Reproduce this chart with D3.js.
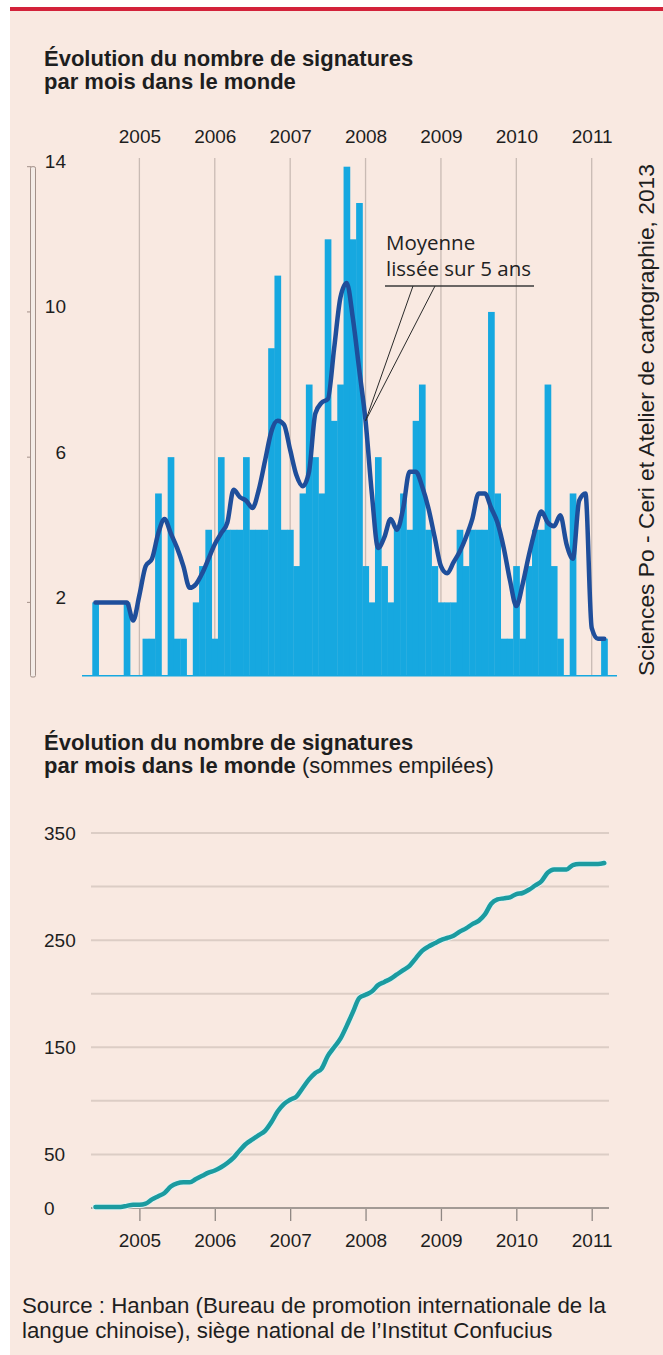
<!DOCTYPE html>
<html>
<head>
<meta charset="utf-8">
<script src="https://cdn.jsdelivr.net/npm/d3@7/dist/d3.min.js"></script>
<style>
  html, body { margin: 0; padding: 0; background: #fff; }
  svg { display: block; }
</style>
</head>
<body>
<div id="chart"></div>
<script>
// Signatures Confucius : par mois (barres + moyenne lissée) et cumul
const yearTicks = [2005, 2006, 2007, 2008, 2009, 2010, 2011]
const firstMonth = 2004 + 5 / 12 // juin 2004, un point par mois ensuite

const monthlySignatures = [
  2, 0, 0, 0, 0, 2, 0, 0, 1, 1,
  5, 0, 6, 1, 1, 0, 2, 3, 4, 1,
  6, 4, 4, 4, 6, 4, 4, 4, 9, 11,
  4, 4, 3, 5, 8, 6, 5, 12, 7, 8,
  14, 12, 13, 3, 2, 6, 3, 2, 4, 5,
  4, 7, 8, 4, 3, 2, 2, 2, 4, 3,
  4, 4, 4, 10, 5, 1, 1, 3, 1, 3,
  4, 4, 8, 3, 1, 0, 5, 0, 0, 0,
  0, 1
]

const smoothedAverage = [
  2.0, 2.0, 2.0, 2.0, 2.0, 2.0, 1.5, 2.2, 3.0, 3.2,
  3.9, 4.3, 3.9, 3.5, 3.0, 2.4, 2.5, 2.8, 3.2, 3.6,
  3.9, 4.2, 5.1, 4.9, 4.8, 4.6, 5.1, 5.9, 6.7, 7.0,
  6.9, 6.2, 5.5, 5.2, 5.6, 7.2, 7.5, 7.6, 9.0, 10.4,
  10.8, 9.8, 8.4, 7.0, 5.0, 3.5, 3.8, 4.3, 4.0, 4.6,
  5.6, 5.6, 5.2, 4.6, 3.8, 3.0, 2.8, 3.1, 3.4, 3.8,
  4.3, 5.0, 5.0, 4.6, 4.2, 3.5, 2.6, 1.9, 2.5, 3.3,
  4.0, 4.5, 4.2, 4.1, 4.4, 3.6, 3.2, 4.8, 5.0, 1.3,
  1.0, 1.0
]

const cumulativeSignatures = [
  1, 1, 1, 1, 1, 2, 3, 3, 4, 8,
  11, 14, 20, 23, 24, 24, 27, 30, 33, 35,
  38, 42, 47, 54, 60, 64, 68, 72, 80, 90,
  97, 101, 104, 112, 120, 126, 130, 142, 150, 158,
  170, 183, 196, 199, 202, 208, 211, 214, 218, 222,
  226, 233, 240, 244, 247, 250, 252, 254, 258, 261,
  265, 268, 274, 284, 288, 289, 290, 293, 294, 297,
  301, 305, 313, 316, 316, 316, 320, 321, 321, 321,
  321, 322
]

const topTicks = [2, 6, 10, 14]
const bottomTicks = [0, 50, 150, 250, 350]
const bottomGrid = [50, 100, 150, 200, 250, 300, 350]

const W = 663, H = 1355
const FONT = "'Liberation Sans', Arial, sans-serif"
const BG = '#f9e9e1'
const BAR = '#16a8e0'
const DARK_LINE = '#1f4e9b'
const TEAL = '#1b9ba0'
const INK = '#1e1e1e'

const svg = d3.select('#chart').append('svg')
  .attr('width', W).attr('height', H)
  .style('font-family', FONT)

// cadre
svg.append('rect').attr('width', W).attr('height', H).attr('fill', '#fff')
svg.append('rect').attr('x', 10).attr('y', 11).attr('width', W - 10).attr('height', H - 11).attr('fill', BG)
svg.append('rect').attr('x', 10).attr('y', 7).attr('width', W - 10).attr('height', 4).attr('fill', '#d3223a')

const monthDate = i => firstMonth + i / 12
const x = d3.scaleLinear().domain([2005, 2011]).range([139.4, 591.7])
const bw = x(2005 + 1 / 12) - x(2005)

// ---------- graphique du haut ----------
const yTop = d3.scaleLinear().domain([0, 14]).range([675, 166.7])

const title1 = svg.append('text').attr('x', 44).attr('y', 66)
  .attr('font-size', 22).attr('font-weight', 'bold').attr('fill', INK)
title1.append('tspan').attr('x', 44).text('Évolution du nombre de signatures')
title1.append('tspan').attr('x', 44).attr('dy', 23).text('par mois dans le monde')

// grille verticale (années)
svg.append('g').selectAll('line').data(yearTicks).join('line')
  .attr('x1', d => x(d)).attr('x2', d => x(d))
  .attr('y1', 158).attr('y2', yTop(0))
  .attr('stroke', '#c9bbb4').attr('stroke-width', 1.3)

// années en haut
const gxTop = svg.append('g').attr('transform', 'translate(0,143)')
  .call(d3.axisTop(x).tickValues(yearTicks).tickSize(0).tickPadding(0).tickFormat(d3.format('d')))
gxTop.select('.domain').remove()
gxTop.selectAll('text').attr('font-size', 19).attr('font-family', FONT).attr('fill', INK).attr('dy', 0)

// barres
svg.append('g').selectAll('rect').data(monthlySignatures.map((v, i) => ({ i, v })).filter(d => d.v > 0)).join('rect')
  .attr('x', d => x(monthDate(d.i)) - bw / 2)
  .attr('width', bw + 0.4)
  .attr('y', d => yTop(d.v))
  .attr('height', d => yTop(0) - yTop(d.v))
  .attr('fill', BAR)

// ligne de base
svg.append('line').attr('x1', 82).attr('x2', 617).attr('y1', yTop(0) + 0.8).attr('y2', yTop(0) + 0.8)
  .attr('stroke', BAR).attr('stroke-width', 1.6)

// moyenne lissée
const smoothLine = d3.line().x((d, i) => x(monthDate(i))).y(d => yTop(d)).curve(d3.curveMonotoneX)
svg.append('path').datum(smoothedAverage)
  .attr('d', smoothLine)
  .attr('fill', 'none').attr('stroke', DARK_LINE).attr('stroke-width', 4.5)
  .attr('stroke-linejoin', 'round').attr('stroke-linecap', 'round')

// axe vertical (réglette)
svg.append('rect').attr('x', 30.5).attr('y', yTop(14)).attr('width', 5).attr('height', yTop(0) - yTop(14) + 2)
  .attr('rx', 1.5).attr('fill', '#f4ece7').attr('stroke', '#a39189').attr('stroke-width', 1)
const gyTop = svg.append('g').attr('transform', 'translate(66,0)')
  .call(d3.axisLeft(yTop).tickValues(topTicks).tickSize(0).tickPadding(0))
gyTop.select('.domain').remove()
gyTop.selectAll('text').attr('font-size', 19).attr('font-family', FONT).attr('fill', INK)
  .attr('dy', 0).attr('y', 1)
svg.append('g').selectAll('line').data(topTicks).join('line')
  .attr('x1', 27).attr('x2', 31).attr('y1', d => yTop(d)).attr('y2', d => yTop(d))
  .attr('stroke', '#a39189').attr('stroke-width', 1)

// annotation
const annIdx = 43
const ax = x(monthDate(annIdx)), ay = yTop(smoothedAverage[annIdx])
const ann = svg.append('text').attr('font-family', "'Open Sans', sans-serif").attr('font-size', 20.5).attr('fill', '#222')
ann.append('tspan').attr('x', 386).attr('y', 250).text('Moyenne')
ann.append('tspan').attr('x', 386).attr('y', 276).text('lissée sur 5 ans')
svg.append('line').attr('x1', 385).attr('x2', 534).attr('y1', 286).attr('y2', 286)
  .attr('stroke', '#3a3a3a').attr('stroke-width', 1.3)
svg.append('path')
  .attr('d', `M413,286 L${ax},${ay} L435,286`)
  .attr('fill', 'none').attr('stroke', '#2a2a2a').attr('stroke-width', 1)

// crédit vertical
svg.append('text').attr('transform', 'translate(654,676) rotate(-90)')
  .attr('font-size', 22.8).attr('fill', INK)
  .text('Sciences Po - Ceri et Atelier de cartographie, 2013')

// ---------- graphique du bas ----------
const yBot = d3.scaleLinear().domain([0, 350]).range([1208, 833])

const title2 = svg.append('text').attr('x', 44).attr('y', 750)
  .attr('font-size', 22).attr('fill', INK)
title2.append('tspan').attr('x', 44).attr('font-weight', 'bold').text('Évolution du nombre de signatures')
title2.append('tspan').attr('x', 44).attr('dy', 23).attr('font-weight', 'bold').text('par mois dans le monde')
title2.append('tspan').text(' (sommes empilées)')

svg.append('g').selectAll('line').data(bottomGrid).join('line')
  .attr('x1', 91).attr('x2', 609).attr('y1', d => yBot(d)).attr('y2', d => yBot(d))
  .attr('stroke', '#dccdc5').attr('stroke-width', 2)

const gyBot = svg.append('g').attr('transform', 'translate(44,0)')
  .call(d3.axisLeft(yBot).tickValues(bottomTicks).tickSize(0).tickPadding(0))
gyBot.select('.domain').remove()
gyBot.selectAll('text').attr('font-size', 19).attr('font-family', FONT).attr('fill', INK)
  .attr('text-anchor', 'start').attr('x', 0)

const gxBot = svg.append('g').attr('transform', `translate(0,${yBot(0)})`)
  .call(d3.axisBottom(x).tickValues(yearTicks).tickSize(13).tickPadding(13).tickFormat(d3.format('d')))
gxBot.select('.domain').remove()
gxBot.selectAll('line').attr('stroke', '#8f8783').attr('stroke-width', 1.3)
gxBot.selectAll('text').attr('font-size', 19).attr('font-family', FONT).attr('fill', INK)
svg.append('line').attr('x1', 91).attr('x2', 609).attr('y1', yBot(0)).attr('y2', yBot(0))
  .attr('stroke', '#a39a95').attr('stroke-width', 2)

const cumLine = d3.line().x((d, i) => x(monthDate(i))).y(d => yBot(d)).curve(d3.curveMonotoneX)
svg.append('path').datum(cumulativeSignatures)
  .attr('d', cumLine)
  .attr('fill', 'none').attr('stroke', '#e3f2f1').attr('stroke-width', 6.5)
  .attr('stroke-linejoin', 'round').attr('stroke-linecap', 'round')
svg.append('path').datum(cumulativeSignatures)
  .attr('d', cumLine)
  .attr('fill', 'none').attr('stroke', TEAL).attr('stroke-width', 4.5)
  .attr('stroke-linejoin', 'round').attr('stroke-linecap', 'round')

// source
const src = svg.append('text').attr('font-size', 22.3).attr('fill', INK)
src.append('tspan').attr('x', 22).attr('y', 1313).text('Source : Hanban (Bureau de promotion internationale de la')
src.append('tspan').attr('x', 22).attr('y', 1338).text('langue chinoise), siège national de l\u2019Institut Confucius')
</script>
</body>
</html>
